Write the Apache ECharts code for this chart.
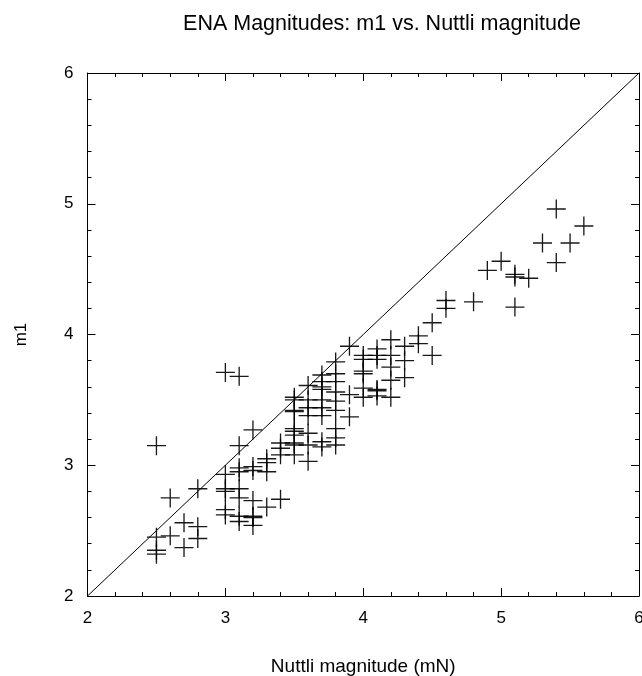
<!DOCTYPE html>
<html>
<head>
<meta charset="utf-8">
<script src="https://cdn.jsdelivr.net/npm/echarts@6/dist/echarts.min.js"></script>
<style>html,body{margin:0;padding:0;background:#fff}#c{width:642px;height:676px}</style>
</head>
<body>
<div id="c"></div>
<script>
// Nuttli magnitude (mN) values
var nuttli = [
  2.5,2.5,2.5,2.5,
  2.6,2.6,
  2.7,2.7,
  2.8,2.8,2.8,
  3.0,3.0,3.0,3.0,3.0,3.0,
  3.1,3.1,3.1,3.1,3.1,3.1,3.1,3.1,
  3.2,3.2,3.2,3.2,3.2,3.2,3.2,
  3.3,3.3,3.3,3.3,
  3.4,3.4,3.4,3.4,
  3.5,3.5,3.5,3.5,3.5,3.5,3.5,3.5,3.5,3.5,
  3.6,3.6,3.6,3.6,3.6,3.6,3.6,
  3.7,3.7,3.7,3.7,3.7,3.7,3.7,3.7,3.7,
  3.8,3.8,3.8,3.8,3.8,3.8,3.8,3.8,3.8,
  3.9,3.9,3.9,
  4.0,4.0,4.0,4.0,4.0,4.0,
  4.1,4.1,4.1,4.1,4.1,4.1,
  4.2,4.2,4.2,4.2,4.2,
  4.3,4.3,4.3,
  4.4,4.4,
  4.5,4.5,
  4.6,4.6,
  4.8,
  4.9,
  5.0,
  5.1,5.1,5.1,
  5.2,
  5.3,
  5.4,5.4,
  5.5,
  5.6
];
// m1 values
var m1 = [
  3.15,2.45,2.35,2.32,
  2.75,2.46,
  2.56,2.37,
  2.82,2.53,2.44,
  3.71,2.93,2.82,2.80,2.66,2.62,
  3.68,3.15,2.98,2.95,2.82,2.75,2.61,2.57,
  3.27,2.99,2.96,2.73,2.61,2.60,2.54,
  3.05,3.02,2.95,2.68,
  3.17,3.13,3.08,2.74,
  3.52,3.50,3.42,3.41,3.28,3.26,3.23,3.17,3.155,3.08,
  3.61,3.50,3.44,3.38,3.245,3.155,3.03,
  3.69,3.64,3.60,3.58,3.50,3.44,3.38,3.18,3.14,
  3.79,3.70,3.64,3.56,3.49,3.42,3.28,3.21,3.155,
  3.91,3.54,3.37,
  3.84,3.81,3.72,3.70,3.59,3.52,
  3.89,3.84,3.81,3.58,3.57,3.53,
  3.96,3.84,3.75,3.65,3.52,
  3.91,3.80,3.67,
  3.99,3.93,
  4.09,3.84,
  4.26,4.20,
  4.25,
  4.49,
  4.56,
  4.46,4.44,4.21,
  4.43,
  4.70,
  4.96,4.55,
  4.70,
  4.83
];
// 1:1 reference line
var lineX = [2, 6];
var lineY = [2, 6];
var xTicks = [2, 3, 4, 5, 6];
var yTicks = [2, 3, 4, 5, 6];

var pts = nuttli.map(function (v, i) { return [v, m1[i]]; });
var linePts = lineX.map(function (v, i) { return [v, lineY[i]]; });

var FONT = 'Liberation Sans, Arial, Helvetica, sans-serif';
function axisCommon(pos, showLabel, vals, margin) {
  return {
    type: 'value', position: pos,
    min: vals[0], max: vals[vals.length - 1], interval: 1,
    axisLine: { show: true, onZero: false, lineStyle: { color: '#000', width: 1 } },
    axisTick: { show: true, inside: true, length: 8, lineStyle: { color: '#000', width: 1 } },
    minorTick: { show: true, splitNumber: 5, length: 4, lineStyle: { color: '#000', width: 1 } },
    splitLine: { show: false },
    minorSplitLine: { show: false },
    axisLabel: { show: showLabel, color: '#000', fontSize: 17, fontFamily: FONT, margin: margin }
  };
}
var xb = axisCommon('bottom', true, xTicks, 14);
xb.name = 'Nuttli magnitude (mN)';
xb.nameLocation = 'middle';
xb.nameGap = 61;
xb.nameTextStyle = { color: '#000', fontSize: 19, fontFamily: FONT };
var xt = axisCommon('top', false, xTicks, 14);
var yl = axisCommon('left', true, yTicks, 14);
yl.name = 'm1';
yl.nameLocation = 'middle';
yl.nameGap = 58;
yl.nameTextStyle = { color: '#000', fontSize: 17, fontFamily: FONT };
var yr = axisCommon('right', false, yTicks, 14);

var chart = echarts.init(document.getElementById('c'), null, { renderer: 'canvas' });
chart.setOption({
  animation: false,
  backgroundColor: '#fff',
  title: {
    text: 'ENA Magnitudes: m1 vs. Nuttli magnitude',
    left: 377, top: 8, textAlign: 'center',
    textStyle: { color: '#000', fontSize: 21.5, fontWeight: 'normal', fontFamily: FONT }
  },
  grid: { left: 87.5, right: 3, top: 73, bottom: 80, containLabel: false, outerBoundsMode: 'none' },
  xAxis: [xb, xt],
  yAxis: [yl, yr],
  series: [
    {
      type: 'line', data: linePts, xAxisIndex: 0, yAxisIndex: 0,
      showSymbol: false, symbol: 'none',
      lineStyle: { color: '#000', width: 1 }, silent: true
    },
    {
      type: 'scatter', data: pts, xAxisIndex: 0, yAxisIndex: 0,
      symbol: 'path://M9.3,0h1.4v9.3h9.3v1.4h-9.3v9.3h-1.4v-9.3h-9.3v-1.4h9.3z',
      symbolSize: 19,
      itemStyle: { color: '#000', opacity: 0.9 },
      clip: false
    }
  ]
});
</script>
</body>
</html>
